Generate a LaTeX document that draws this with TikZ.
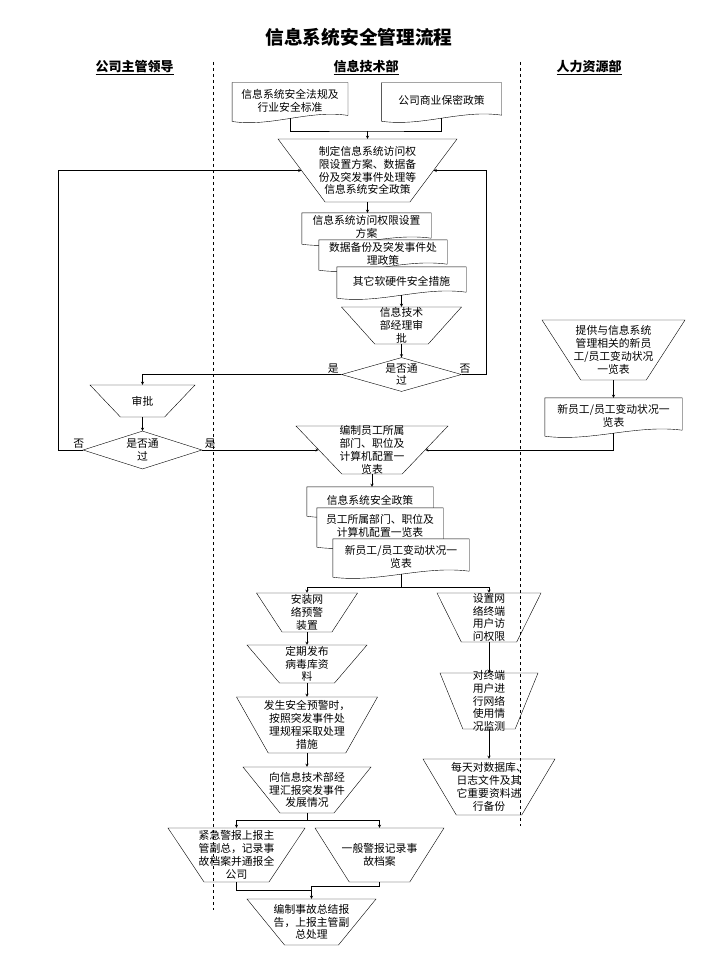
\documentclass[tikz,border=0pt]{standalone}
\usepackage{fontspec}
\setmainfont{Noto Sans CJK SC}
\usetikzlibrary{shapes.geometric, calc}
\pgfdeclarelayer{background}
\pgfsetlayers{background,main}
\newcommand{\fs}{\fontsize{10.8pt}{12.8pt}\selectfont}
\newcommand{\docframe}[1]{%
  \begin{pgfonlayer}{background}
    \draw[fill=white] ($(#1.south west)+(0,3)$) -- (#1.north west) -- (#1.north east)
      -- ($(#1.south east)+(0,-3)$)
      .. controls ($(#1.south east)!0.333!(#1.south west)+(0,-9)$)
      and ($(#1.south east)!0.667!(#1.south west)+(0,9)$) .. ($(#1.south west)+(0,3)$) -- cycle;
  \end{pgfonlayer}}

\begin{document}
\begin{tikzpicture}[
        x=1pt, y=-1pt,
        line width=0.9pt,
        manual/.style = {trapezium, shape border rotate=180, trapezium stretches=true, draw, inner sep=1pt},
        dec/.style = {diamond, draw, inner sep=1pt},
        doc/.style = {rectangle, inner sep=0pt, align=center, font=\fs},
        tx/.style = {align=center, font=\fs, inner sep=0pt},
        yn/.style = {above, font=\fs, inner sep=1pt},
        pil/.style = {black, -stealth},
        lane/.style = {dashed, line width=0.7pt},
        head/.style = {font=\fontsize{13pt}{15pt}\selectfont\bfseries}
        ]
        \useasboundingbox (0,0) rectangle (720,960);
        \node[font=\fontsize{18.7pt}{22pt}\selectfont\bfseries] (title) at (359,37) {信息系统安全管理流程};
        \node[head] (lead) at (134.5,68) {\underline{公司主管领导}};
        \node[head] (it) at (366,68) {\underline{信息技术部}};
        \node[head] (hr) at (589,68) {\underline{人力资源部}};
        \draw[lane] (213.5,62) -- (213.5,910);
        \draw[lane] (520.5,62) -- (520.5,826);

        % sources
        \node[doc, minimum width=115, minimum height=35] (d1) at (290,100.5) {信息系统安全法规及\\行业安全标准};
        \docframe{d1}
        \node[doc, minimum width=120, minimum height=35] (d2) at (441.5,100.5) {公司商业保密政策};
        \docframe{d2}
        \coordinate (j1) at (367.5,131);
        \node[manual, minimum width=179, minimum height=63, trapezium angle=60.95,
          label={[tx]center:{制定信息系统访问权\\限设置方案、数据备\\份及突发事件处理等\\信息系统安全政策}}] (t1) at (367.5,170.5) {};
        \node[doc, minimum width=129, minimum height=28] (m1a) at (366.5,227) {信息系统访问权限设置\\方案};
        \docframe{m1a}
        \node[doc, minimum width=128, minimum height=27] (m1b) at (383,253.5) {数据备份及突发事件处\\理政策};
        \docframe{m1b}
        \node[doc, minimum width=129, minimum height=28] (m1c) at (401.5,281) {其它软硬件安全措施};
        \docframe{m1c}
        \node[manual, minimum width=120, minimum height=37, trapezium angle=58.13,
          label={[tx]center:{信息技术\\部经理审\\批}}] (t2) at (401.5,325.5) {};
        \node[dec, minimum width=120, minimum height=34, label={[tx]center:{是否通\\过}}] (dd1) at (401.5,374.5) {};

        % approval
        \node[manual, minimum width=105, minimum height=32, trapezium angle=55.5,
          label={[tx]center:审批}] (sp) at (142.5,401) {};
        \node[dec, minimum width=119, minimum height=38, label={[tx]center:{是否通\\过}}] (dd2) at (142.5,450) {};
        \coordinate (lx) at (58,170.5);
        \coordinate (rx) at (486,170.5);

        % staff lists
        \node[manual, minimum width=143, minimum height=60, trapezium angle=59.4,
          label={[tx]center:{提供与信息系统\\管理相关的新员\\工/员工变动状况\\一览表}}] (t4) at (613.5,350) {};
        \node[doc, minimum width=137, minimum height=35] (d3) at (613.5,415.5) {新员工/员工变动状况一\\览表};
        \docframe{d3}
        \node[manual, minimum width=152, minimum height=48, trapezium angle=52.75,
          label={[tx]center:{编制员工所属\\部门、职位及\\计算机配置一\\览表}}] (t3) at (372,450) {};
        \node[doc, minimum width=126, minimum height=26] (m2a) at (370,500) {信息系统安全政策};
        \docframe{m2a}
        \node[doc, minimum width=126, minimum height=36] (m2b) at (380,526) {员工所属部门、职位及\\计算机配置一览表};
        \docframe{m2b}
        \node[doc, minimum width=136, minimum height=35] (m2c) at (401,556.5) {新员工/员工变动状况一\\览表};
        \docframe{m2c}
        \coordinate (j2) at (401,587);

        % warning branch
        \node[manual, minimum width=101, minimum height=39, trapezium angle=62.85,
          label={[tx]center:{安装网\\络预警\\装置}}] (t5) at (307,612.5) {};
        \node[manual, minimum width=120, minimum height=38, trapezium angle=59.4,
          label={[tx]center:{定期发布\\病毒库资\\料}}] (t7) at (307,664) {};
        \node[manual, minimum width=141, minimum height=56, trapezium angle=67.7,
          label={[tx]center:{发生安全预警时，\\按照突发事件处\\理规程采取处理\\措施}}] (t8) at (307,725) {};
        \node[manual, minimum width=128, minimum height=46, trapezium angle=55.6,
          label={[tx]center:{向信息技术部经\\理汇报突发事件\\发展情况}}] (t9) at (307,790) {};
        \coordinate (j3) at (307,820);
        \node[manual, minimum width=137, minimum height=54, trapezium angle=60.9,
          label={[tx]center:{紧急警报上报主\\管副总，记录事\\故档案并通报全\\公司}}] (t12) at (236.5,855) {};
        \node[manual, minimum width=129, minimum height=54, trapezium angle=60.5,
          label={[tx]center:{一般警报记录事\\故档案}}] (t13) at (379.5,855) {};
        \coordinate (j4) at (311.5,886);
        \coordinate (j5) at (311.5,890);
        \node[manual, minimum width=129, minimum height=46, trapezium angle=55.2,
          label={[tx]center:{编制事故总结报\\告，上报主管副\\总处理}}] (t14) at (311.5,922) {};

        % terminal branch
        \node[manual, minimum width=104, minimum height=49, trapezium angle=66.3,
          label={[tx]center:{设置网\\络终端\\用户访\\问权限}}] (t6) at (489,617.5) {};
        \node[manual, minimum width=98, minimum height=56, trapezium angle=66.4,
          label={[tx]center:{对终端\\用户进\\行网络\\使用情\\况监测}}] (t10) at (489,701) {};
        \node[manual, minimum width=132, minimum height=56, trapezium angle=63,
          label={[tx]center:{每天对数据库、\\日志文件及其\\它重要资料进\\行备份}}] (t11) at (489,787) {};

        \draw (d1.south) |- (j1) -| (d2.south);
        \draw[pil] (j1) -- (t1);
        \draw[pil] (t1) -- (t1 |- m1a.north);
        \draw[pil] (m1c.south) -- (t2);
        \draw[pil] (t2) -- (dd1);
        \draw[pil] (dd1.west) -| node[yn, pos=0.02] (y1) {是} (sp);
        \draw[pil] (dd1.east) -| node[yn, pos=0.07] (n1) {否} (rx) -- (t1);
        \draw[pil] (sp) -- (dd2);
        \draw[pil] (dd2.west) -| node[yn, pos=0.08] (n2) {否} (lx) -- (t1);
        \draw[pil] (dd2.east) -- node[yn, pos=0.07] (y2) {是} (t3);
        \draw[pil] (t4) -- (t4 |- d3.north);
        \draw[pil] (d3.south) |- (t3);
        \draw[pil] (t3) -- (t3 |- m2a.north);
        \draw (m2c.south) -- (j2);
        \draw[pil] (j2) -| (t5);
        \draw[pil] (j2) -| (t6);
        \draw[pil] (t5) -- (t7);
        \draw[pil] (t7) -- (t8);
        \draw[pil] (t8) -- (t9);
        \draw (t9) -- (j3);
        \draw[pil] (j3) -| (t12);
        \draw[pil] (j3) -| (t13);
        \draw (t12) |- (j5);
        \draw (t13) |- (j4);
        \draw[pil] (j4) -- (t14);
        \draw[pil] (t6) -- (t10);
        \draw[pil] (t10) -- (t11);
\end{tikzpicture}
\end{document}
